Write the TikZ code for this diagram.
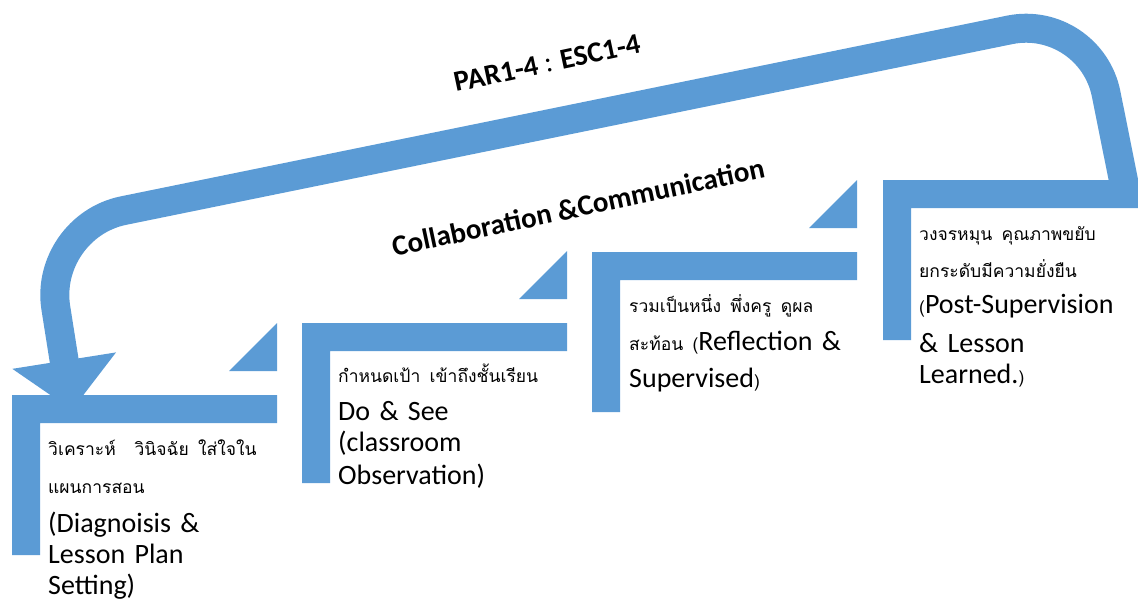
\documentclass[tikz,border=0pt]{standalone}
\usepackage{fontspec}
\setmainfont{Carlito}
\newfontfamily\thaifont[Script=Thai]{Loma}
\usetikzlibrary{arrows.meta,positioning}
\definecolor{barblue}{RGB}{91,155,213}
\newcommand{\thaisize}{\thaifont\fontsize{17.5}{31}\selectfont}
\tikzset{
    %Define style for the step bars
    stepbar/.style={
           fill=barblue,
           draw=none},
    %Define style for the step texts
    steptext/.style={
           anchor=base west,
           inner sep=0pt,
           text width=240pt,
           align=left,
           font=\fontsize{28}{31}\selectfont},
    %Define style for the slanted titles
    headline/.style={
           inner sep=0pt,
           font=\fontsize{29}{32}\selectfont,
           rotate=12},
    % Define arrow style
    looparrow/.style={
           draw=barblue,
           line width=29pt,
           rounded corners=82pt,
           -{Triangle[width=102pt,length=50pt]}}
}
\begin{document}
\begin{tikzpicture}[x=1pt,y=-1pt]
\useasboundingbox (0,0) rectangle (1138,598);

 %big arrow
\coordinate (tail) at (1127,198);
\coordinate (cornerR) at (1090,13.5);
\coordinate (cornerL) at (43,227);
\coordinate (tip) at (72,410);
\draw[looparrow] (tail) -- (cornerR) -- (cornerL) -- (tip);

 %steps
\foreach \x/\y in {12/395, 302/323, 592/252, 883/180}
  \fill[stepbar] (\x,\y) -- ++(265,0) -- ++(0,28) -- ++(-237,0) -- ++(0,132) -- ++(-28,0) -- cycle;
\foreach \x/\y in {12/395, 302/323, 592/252}
  \fill[stepbar] (\x+217,\y-24) -- ++(48,0) -- ++(0,-48) -- cycle;

 %texts
\node[steptext] (s1) at (48,455) {{\thaisize วิเคราะห์\ \ วินิจฉัย ใส่ใจใน}\\[7pt]{\thaisize แผนการสอน}\\[8pt](Diagnoisis \&\\Lesson Plan\\Setting)};
\node[steptext] (s2) at (338,382) {{\thaisize กำหนดเป้า เข้าถึงชั้นเรียน}\\[7pt]Do \& See\\(classroom\\[2pt]Observation)};
\node[steptext] (s3) at (629,312) {{\thaisize รวมเป็นหนึ่ง พึ่งครู ดูผล}\\[7pt]{\thaisize สะท้อน (}Reflection \&\\[6pt]Supervised{\thaisize )}};
\node[steptext] (s4) at (919,240) {{\thaisize วงจรหมุน คุณภาพขยับ}\\[6pt]{\thaisize ยกระดับมีความยั่งยืน}\\[5pt]{\thaisize (}Post-Supervision\\[8pt]\& Lesson\\Learned.{\thaisize )}};

\node[headline] (par) at (547,63) {\textbf{PAR1-4} : \textbf{ESC1-4}};
\node[headline] (collab) at (578,207) {\textbf{Collaboration \&Communication}};

\end{tikzpicture}
\end{document}
